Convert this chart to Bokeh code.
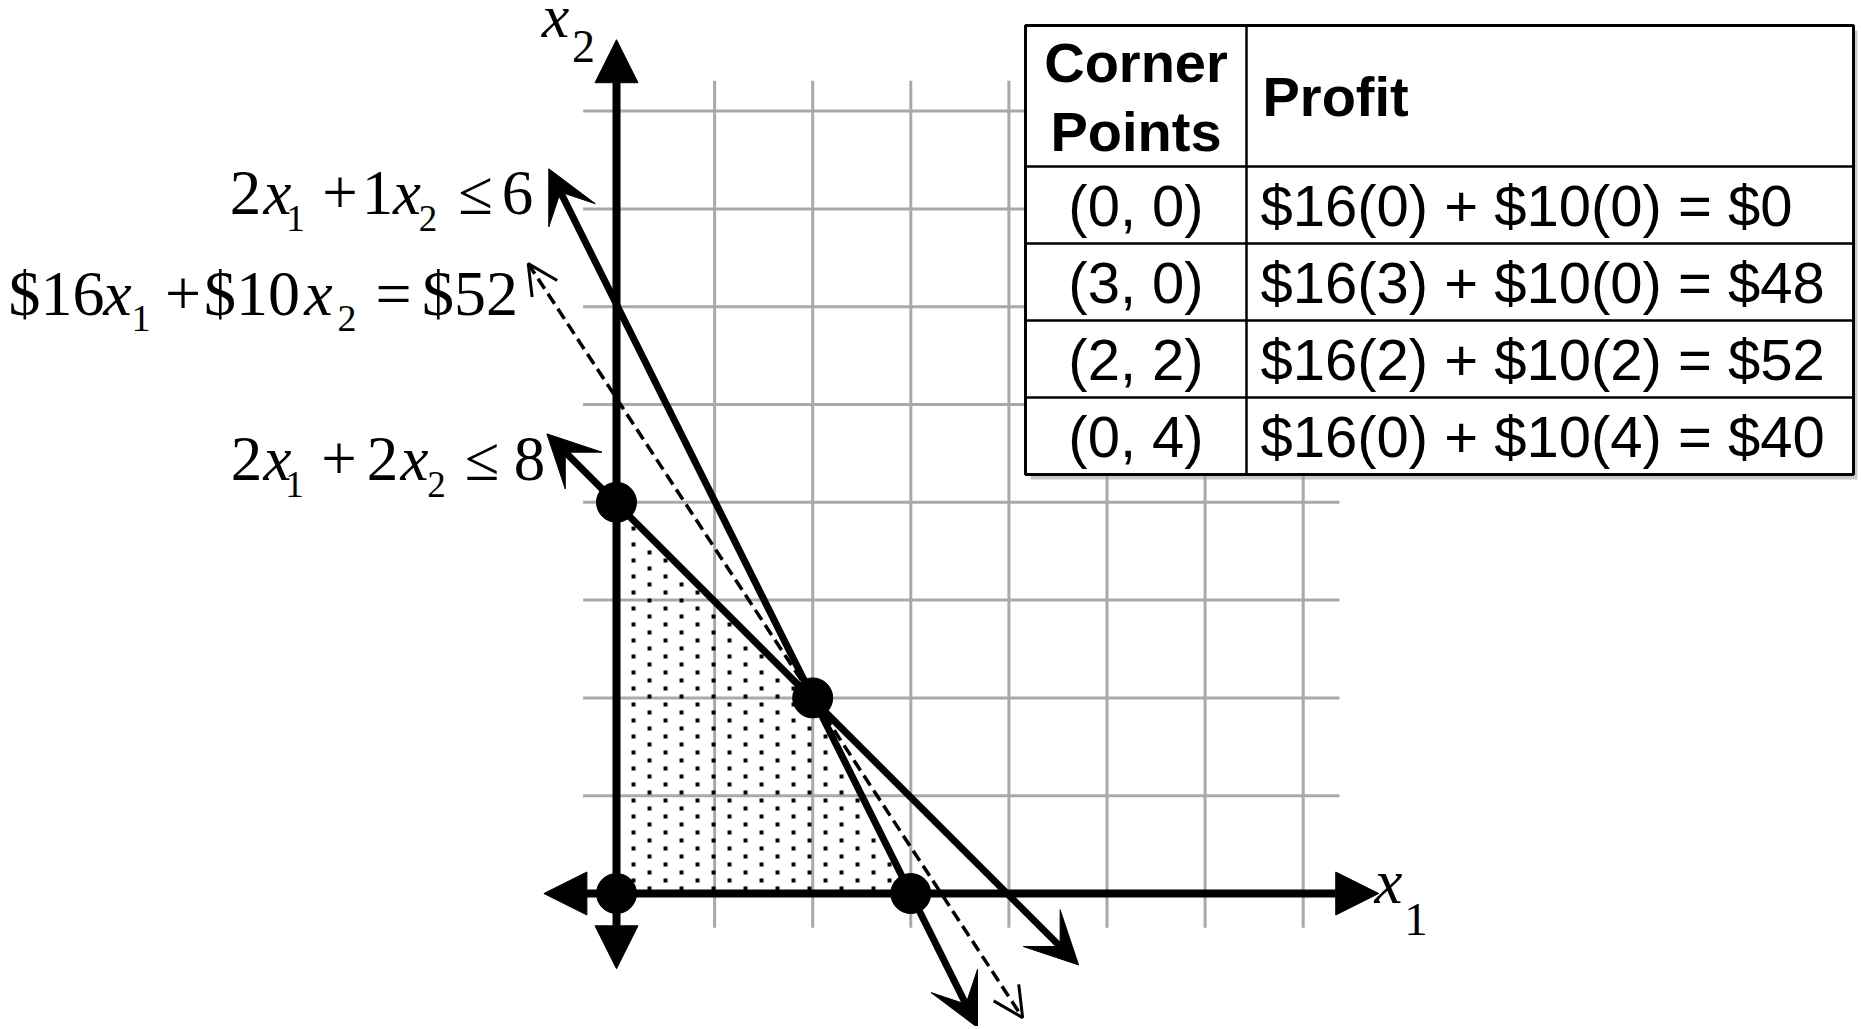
import numpy as np
from bokeh.plotting import figure
from bokeh.models import Range1d, Arrow, NormalHead, VeeHead, OpenHead
from bokeh.core.properties import value
from bokeh.embed import file_html
from bokeh.resources import INLINE

# ---------------- data ----------------
corner_x = [0, 3, 2, 0]
corner_y = [0, 0, 2, 4]
profit_coef = [16, 10]

# constraint 2x1 + 1x2 <= 6 (arrow ends)
c1_x = [-0.69, 3.68]
c1_y = [7.41, -1.37]
# constraint 2x1 + 2x2 <= 8 (arrow ends)
c2_x = [-0.71, 4.71]
c2_y = [4.70, -0.73]
# iso-profit line $16x1 + $10x2 = $52 (arrow ends)
obj_x = [-0.90, 4.14]
obj_y = [6.44, -1.27]

# axes extents
xaxis_x = [-0.74, 7.77]
yaxis_y = [-0.77, 8.73]

# grid
grid_xs = [1, 2, 3, 4, 5, 6, 7]
grid_ys = [1, 2, 3, 4, 5, 6, 7, 8]
grid_x_extent = [-0.34, 7.37]
grid_y_extent = [-0.35, 8.31]

table_head = ["Corner", "Points", "Profit"]

# ---------------- page geometry ----------------
W, H = 1858, 1026
UX, UY = 98.1, 97.8
OXR, OYR = 616.0, 893.0
TXT_K = 0.37   # correction of the text anchor (fraction of font size)


def dx(X):
    return (X - OXR) / UX


def dy(Y):
    return (OYR - Y) / UY


def tb(Y, fs):
    """data y of a text anchor whose alphabetic baseline should sit at ref px Y"""
    return dy(Y - TXT_K * fs)


p = figure(width=W, height=H, title=None,
           x_range=Range1d(dx(0), dx(W)), y_range=Range1d(dy(H), dy(0)),
           x_axis_location=None, y_axis_location=None,
           output_backend="svg", toolbar_location=None, min_border=0)
p.grid.visible = False
p.outline_line_color = None
p.background_fill_color = "white"
p.border_fill_color = "white"

GRID = "#a9a9a9"
# grid lines
p.segment(x0=grid_xs, y0=[grid_y_extent[0]] * len(grid_xs), x1=grid_xs,
          y1=[grid_y_extent[1]] * len(grid_xs), line_color=GRID, line_width=3)
p.segment(x0=[grid_x_extent[0]] * len(grid_ys), y0=grid_ys,
          x1=[grid_x_extent[1]] * len(grid_ys), y1=grid_ys, line_color=GRID, line_width=3)

# feasible region: dotted texture (staggered lattice of small squares, 16 px pitch)
xs_px, ys_px = [], []
for i, X in enumerate(np.arange(633, 1000, 16.0)):
    off = 8.0 if i % 2 else 0.0
    for Y in np.arange(496 + off, 890, 16.0):
        xs_px.append(X)
        ys_px.append(Y)
tx = np.array([dx(v) for v in xs_px])
ty = np.array([dy(v) for v in ys_px])
m = 0.05
inside = (tx > m) & (ty > 0.03) & (2 * tx + ty < 6 - 2.3 * m) & (tx + ty < 4 - 1.5 * m)
p.scatter(tx[inside], ty[inside], marker="square", size=4, color="black", line_color=None)

# constraint lines
for xs, ys in [(c1_x, c1_y), (c2_x, c2_y)]:
    p.add_layout(Arrow(
        start=VeeHead(size=52, fill_color="black", line_color="black"),
        end=VeeHead(size=52, fill_color="black", line_color="black"),
        x_start=xs[0], y_start=ys[0], x_end=xs[1], y_end=ys[1],
        line_width=7, line_color="black"))

# iso-profit line (dashed)
p.add_layout(Arrow(
    start=OpenHead(size=30, line_width=3, line_color="black"),
    end=OpenHead(size=30, line_width=3, line_color="black"),
    x_start=obj_x[0], y_start=obj_y[0], x_end=obj_x[1], y_end=obj_y[1],
    line_width=3.5, line_color="black", line_dash="12 6"))

# axes with arrowheads
p.add_layout(Arrow(
    start=NormalHead(size=43, fill_color="black", line_color="black"),
    end=NormalHead(size=43, fill_color="black", line_color="black"),
    x_start=xaxis_x[0], y_start=0, x_end=xaxis_x[1], y_end=0,
    line_width=8, line_color="black"))
p.add_layout(Arrow(
    start=NormalHead(size=43, fill_color="black", line_color="black"),
    end=NormalHead(size=43, fill_color="black", line_color="black"),
    x_start=0, y_start=yaxis_y[0], x_end=0, y_end=yaxis_y[1],
    line_width=8, line_color="black"))

# corner points
p.scatter(corner_x, corner_y, size=40, color="black", level="annotation")

# ---------------- equation labels (Times-like serif) ----------------
SERIF = "Liberation Serif"
# (text, centre x [ref px], baseline [ref px], font px, italic)
runs = [
    # 2x1 + 1x2 <= 6
    ("2", 245, 216, 63, False), ("x", 277, 216, 63, True), ("1", 295, 232, 37, False),
    ("+", 339.5, 216, 63, False), ("1", 377, 216, 63, False), ("x", 406.5, 216, 63, True),
    ("2", 427.5, 232, 37, False), ("\u2264", 475, 216, 63, False), ("6", 517, 216, 63, False),
    # $16x1 + $10x2 = $52
    ("$16", 56, 317, 64, False), ("x", 117, 317, 64, True), ("1", 140.5, 332, 38, False),
    ("+", 182.5, 317, 64, False), ("$10", 251.5, 317, 64, False), ("x", 318, 317, 64, True),
    ("2", 346.5, 332, 38, False), ("=", 393, 317, 64, False), ("$52", 469.5, 317, 64, False),
    # 2x1 + 2x2 <= 8
    ("2", 246, 482, 63, False), ("x", 277, 482, 63, True), ("1", 294, 498, 37, False),
    ("+", 338.5, 482, 63, False), ("2", 382, 482, 63, False), ("x", 414, 482, 63, True),
    ("2", 436, 498, 37, False), ("\u2264", 481.5, 482, 63, False), ("8", 529, 482, 63, False),
    # axis labels
    ("x", 555, 38, 62, True), ("2", 583, 63, 46, False),
    ("x", 1388, 905, 63, True), ("1", 1415.5, 936, 47, False),
]
for t, xc, yb, fs, it in runs:
    p.text(x=[dx(xc)], y=[tb(yb, fs)], text=[t], text_font=value(SERIF),
           text_font_size=value(f"{fs}px"), text_font_style="italic" if it else "normal",
           text_align="center", text_baseline="alphabetic", text_color="black")

# ---------------- table ----------------
TL, TR, TT, TB = 1025, 1853, 25, 474
COL = 1246
row_lines = [166, 243, 320, 397]
SANS = "Liberation Sans"
HF, DF = 56, 58

p.quad(left=[dx(TL + 5)], right=[dx(TR + 4)], top=[dy(TT + 5)], bottom=[dy(TB + 5)],
       fill_color="#9a9a9a", fill_alpha=0.55, line_color=None)
p.quad(left=[dx(TL)], right=[dx(TR)], top=[dy(TT)], bottom=[dy(TB)],
       fill_color="white", line_color="black", line_width=3)
p.segment(x0=[dx(TL)] * len(row_lines), y0=[dy(r) for r in row_lines],
          x1=[dx(TR)] * len(row_lines), y1=[dy(r) for r in row_lines],
          line_color="black", line_width=2.5)
p.segment(x0=[dx(COL)], y0=[dy(TT)], x1=[dx(COL)], y1=[dy(TB)],
          line_color="black", line_width=2.5)

# header
p.text(x=[dx((TL + COL) / 2)] * 2, y=[tb(83, HF), tb(152, HF)], text=table_head[:2],
       text_font=value(SANS), text_font_size=value(f"{HF}px"), text_font_style="bold",
       text_align="center", text_baseline="alphabetic", text_color="black")
p.text(x=[dx(COL + 16)], y=[tb(117, HF)], text=[table_head[2]],
       text_font=value(SANS), text_font_size=value(f"{HF}px"), text_font_style="bold",
       text_align="left", text_baseline="alphabetic", text_color="black")

# rows
pts_txt = [f"({a}, {b})" for a, b in zip(corner_x, corner_y)]
prof_txt = [f"${profit_coef[0]}({a}) + ${profit_coef[1]}({b}) = ${profit_coef[0]*a + profit_coef[1]*b}"
            for a, b in zip(corner_x, corner_y)]
edges = row_lines + [TB]
baselines = [(edges[i] + edges[i + 1]) / 2 + 22 for i in range(4)]
p.text(x=[dx((TL + COL) / 2)] * 4, y=[tb(b, DF) for b in baselines], text=pts_txt,
       text_font=value(SANS), text_font_size=value(f"{DF}px"),
       text_align="center", text_baseline="alphabetic", text_color="black")
p.text(x=[dx(COL + 14)] * 4, y=[tb(b, DF) for b in baselines], text=prof_txt,
       text_font=value(SANS), text_font_size=value(f"{DF}px"),
       text_align="left", text_baseline="alphabetic", text_color="black")

open("out.html", "w").write(file_html(p, INLINE))
